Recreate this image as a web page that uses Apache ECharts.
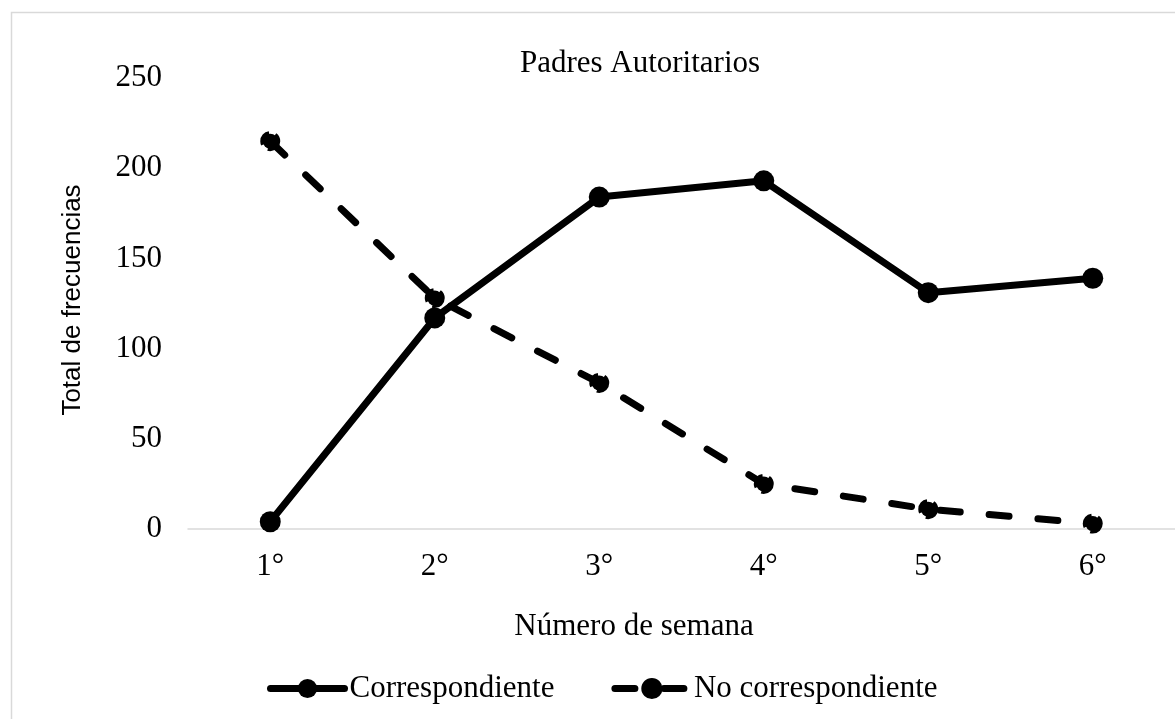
<!DOCTYPE html>
<html><head><meta charset="utf-8">
<script src="https://cdn.jsdelivr.net/npm/echarts@6/dist/echarts.min.js"></script>
<style>html,body{margin:0;padding:0;background:#fff}#c{width:1175px;height:719px}</style>
</head><body><div id="c"></div>
<script>
const categories = ['1°', '2°', '3°', '4°', '5°', '6°'];
const correspondiente = [4, 117, 184, 193, 131, 139];
const noCorrespondiente = [215, 128, 81, 25, 11, 3];
const yMin = 0, yMax = 250, yInterval = 50;
const titleText = 'Padres Autoritarios';
const xName = 'Número de semana';
const yName = 'Total de frecuencias';
const seriesNames = ['Correspondiente', 'No correspondiente'];

const serif = '"Liberation Serif", "Times New Roman", serif';
const chart = echarts.init(document.getElementById('c'), null, {renderer: 'canvas'});
chart.setOption({
  animation: false,
  backgroundColor: '#fff',
  graphic: [
    {type: 'rect', shape: {x: 11.5, y: 12.5, width: 1300, height: 900}, style: {fill: 'none', stroke: '#d9d9d9', lineWidth: 1.5}, silent: true, z: -1},
    {type: 'text', x: 640, y: 64, style: {text: titleText, font: '31px ' + serif, fill: '#000', textAlign: 'center', textVerticalAlign: 'middle'}},
    {type: 'text', x: 634, y: 627, style: {text: xName, font: '31px ' + serif, fill: '#000', textAlign: 'center', textVerticalAlign: 'middle'}},
    {type: 'text', x: 73, y: 300, rotation: Math.PI / 2, style: {text: yName, font: '26px "Liberation Sans", Arial, sans-serif', fill: '#000', textAlign: 'center', textVerticalAlign: 'middle'}}
  ],
  legend: {
    left: 262, top: 668,
    itemWidth: 74, itemHeight: 24, itemGap: 57,
    lineStyle: {width: 7, cap: 'round'},
    textStyle: {fontFamily: serif, fontSize: 31, color: '#000'},
    data: seriesNames
  },
  grid: {left: 188, top: 78, width: 1002, height: 451, containLabel: false},
  xAxis: {
    type: 'category', data: categories, boundaryGap: true,
    axisLine: {show: true, lineStyle: {color: '#d9d9d9', width: 1.5}},
    axisTick: {show: false},
    axisLabel: {fontFamily: serif, fontSize: 31, color: '#000', margin: 22},
    splitLine: {show: false}
  },
  yAxis: {
    type: 'value', min: yMin, max: yMax, interval: yInterval,
    axisLine: {show: false}, axisTick: {show: false},
    axisLabel: {fontFamily: serif, fontSize: 31, color: '#000', margin: 26},
    splitLine: {show: false}
  },
  series: [
    {
      name: seriesNames[0], type: 'line', data: correspondiente,
      symbol: 'circle', symbolSize: 21,
      lineStyle: {color: '#000', width: 7},
      itemStyle: {color: '#000'}, z: 3
    },
    {
      name: seriesNames[1], type: 'line', data: noCorrespondiente,
      symbol: 'circle', symbolSize: 15,
      lineStyle: {color: '#000', width: 7, type: [20, 29], cap: 'round'},
      itemStyle: {color: '#000', borderColor: '#000', borderWidth: 5, borderType: [14, 6]}, z: 2
    }
  ]
});
</script></body></html>
